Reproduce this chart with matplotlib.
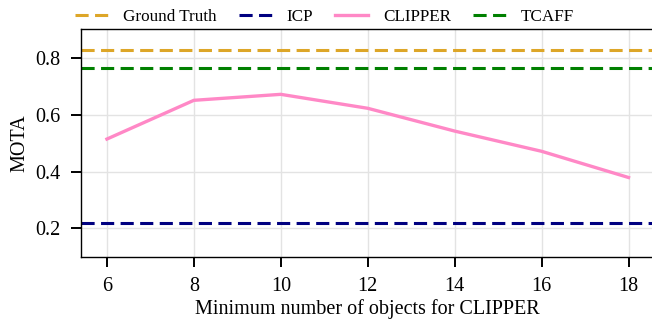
import matplotlib
matplotlib.use("Agg")
import matplotlib.pyplot as plt

# data
min_objects = [6, 8, 10, 12, 14, 16, 18]
clipper_mota = [0.514, 0.650, 0.671, 0.622, 0.542, 0.471, 0.379]
ground_truth_mota = 0.827
icp_mota = 0.218
tcaff_mota = 0.762

plt.rcParams['font.family'] = ['Liberation Serif', 'DejaVu Serif']
plt.rcParams['font.size'] = 14.5

fig = plt.figure(figsize=(6.52, 3.2), dpi=100)
ax = fig.add_axes([0.124, 0.197, 0.88, 0.712])

dash = (4.3, 2.1)
ax.axhline(ground_truth_mota, color='#DDA628', ls='--', lw=2.2, dashes=dash, label='Ground Truth')
ax.axhline(icp_mota, color='#000080', ls='--', lw=2.2, dashes=dash, label='ICP')
ax.plot(min_objects, clipper_mota, color='#FF88C6', lw=2.4, label='CLIPPER')
ax.axhline(tcaff_mota, color='#008000', ls='--', lw=2.2, dashes=dash, label='TCAFF')

ax.set_xlim(5.4, 18.6)
ax.set_ylim(0.1, 0.9)
ax.set_xticks(min_objects)
ax.set_yticks([0.2, 0.4, 0.6, 0.8])
ax.set_yticklabels(['0.2', '0.4', '0.6', '0.8'])
ax.grid(True, color='#e3e3e3', lw=1.0)
ax.set_axisbelow(True)
ax.tick_params(direction='out', length=7.5, width=1.4, color='black', labelsize=14.5, pad=7)
for s in ax.spines.values():
    s.set_linewidth(1.0)
ax.set_xlabel('Minimum number of objects for CLIPPER', fontsize=14.5, labelpad=2)
ax.set_ylabel('MOTA', fontsize=14.5, labelpad=4)

fig.legend(loc='center', bbox_to_anchor=(0.498, 0.948), ncol=4, frameon=False,
           fontsize=12.3, handlelength=1.95, columnspacing=1.3, handletextpad=0.85,
           borderaxespad=0.0, borderpad=0.0)

fig.savefig('out.png', dpi=100)
